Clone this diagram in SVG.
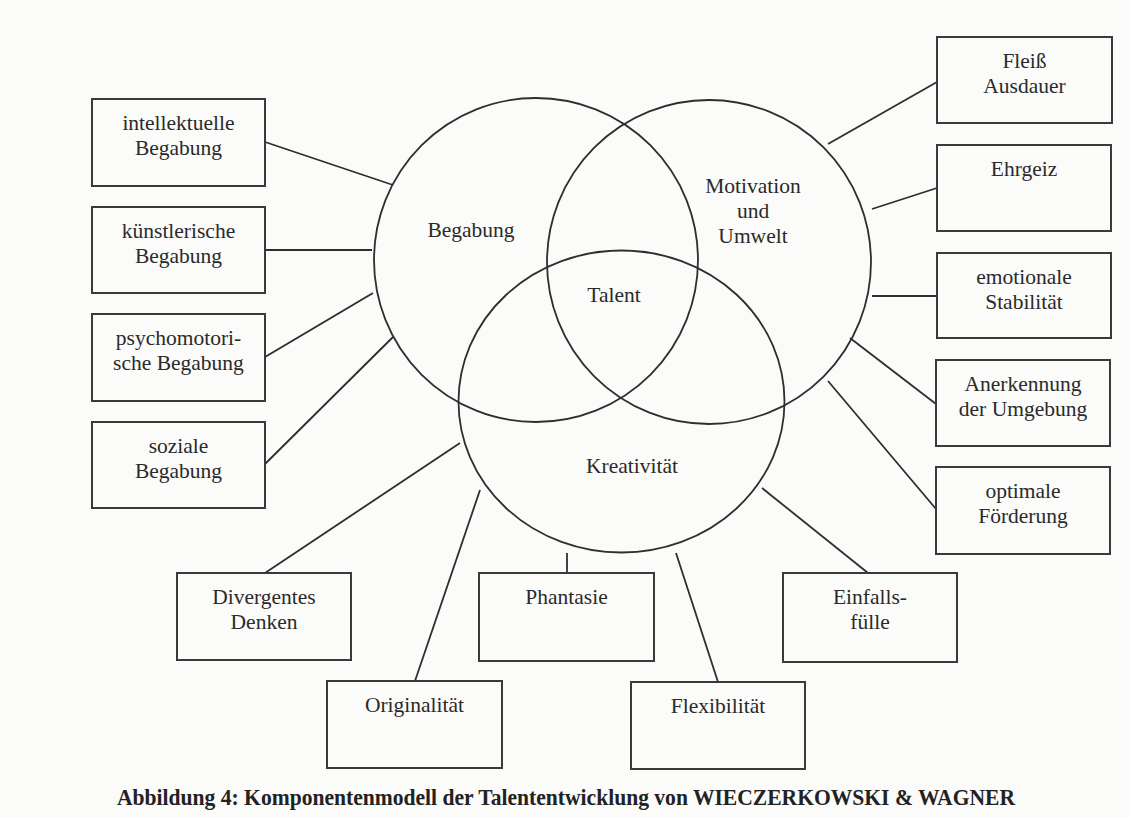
<svg xmlns="http://www.w3.org/2000/svg" width="1129" height="818" viewBox="0 0 1129 818">
<style>
  .bg { fill: #fbfbfa; }
  .shape { fill: none; stroke: #2e2e2e; stroke-width: 1.8; }
  .box { fill: none; stroke: #3a3a3a; stroke-width: 2; }
  .conn line { stroke: #2e2e2e; stroke-width: 1.8; }
  .t { font-family: "Liberation Serif", "Times New Roman", serif; font-size: 21.5px; fill: #2a2a2a; text-anchor: middle; }
  .title { font-family: "Liberation Serif", "Times New Roman", serif; font-size: 24px; font-weight: bold; fill: #222; }
</style>
<rect class="bg" x="0" y="0" width="1129" height="818"/>

<g id="circles">
  <g id="circle-begabung">
    <circle class="shape" cx="536" cy="260" r="162"/>
    <text class="t" x="471" y="237">Begabung</text>
  </g>
  <g id="circle-motivation">
    <circle class="shape" cx="709" cy="262" r="162"/>
    <text class="t" x="753" y="193">Motivation</text>
    <text class="t" x="753" y="218">und</text>
    <text class="t" x="753" y="243">Umwelt</text>
  </g>
  <g id="circle-kreativitaet">
    <ellipse class="shape" cx="621.5" cy="401.5" rx="163" ry="151"/>
    <text class="t" x="632" y="473">Kreativität</text>
  </g>
  <g id="talent">
    <text class="t" x="614" y="302">Talent</text>
  </g>
</g>

<g id="connectors" class="conn">
  <line x1="265" y1="142" x2="393" y2="185"/>
  <line x1="265" y1="250" x2="372" y2="250"/>
  <line x1="265" y1="357" x2="373" y2="293"/>
  <line x1="265" y1="464" x2="393" y2="337"/>
  <line x1="937" y1="82" x2="828" y2="144"/>
  <line x1="937" y1="188" x2="872" y2="209"/>
  <line x1="937" y1="296" x2="872" y2="296"/>
  <line x1="936" y1="404" x2="850" y2="338"/>
  <line x1="936" y1="509" x2="828" y2="381"/>
  <line x1="265" y1="573" x2="460" y2="443"/>
  <line x1="415" y1="681" x2="480" y2="490"/>
  <line x1="567" y1="553" x2="567" y2="573"/>
  <line x1="718" y1="682" x2="676" y2="553"/>
  <line x1="868" y1="573" x2="762" y2="488"/>
</g>

<g id="node-intellektuelle">
  <rect class="box" x="92" y="99" width="173" height="87"/>
  <text class="t" x="178.5" y="130">intellektuelle</text>
  <text class="t" x="178.5" y="155">Begabung</text>
</g>
<g id="node-kuenstlerische">
  <rect class="box" x="92" y="207" width="173" height="86"/>
  <text class="t" x="178.5" y="238">künstlerische</text>
  <text class="t" x="178.5" y="263">Begabung</text>
</g>
<g id="node-psychomotorische">
  <rect class="box" x="92" y="314" width="173" height="87"/>
  <text class="t" x="178.5" y="345">psychomotori-</text>
  <text class="t" x="178.5" y="370">sche Begabung</text>
</g>
<g id="node-soziale">
  <rect class="box" x="92" y="422" width="173" height="86"/>
  <text class="t" x="178.5" y="453">soziale</text>
  <text class="t" x="178.5" y="478">Begabung</text>
</g>

<g id="node-fleiss">
  <rect class="box" x="937" y="37" width="175" height="86"/>
  <text class="t" x="1024.5" y="68">Fleiß</text>
  <text class="t" x="1024.5" y="93">Ausdauer</text>
</g>
<g id="node-ehrgeiz">
  <rect class="box" x="937" y="145" width="174" height="86"/>
  <text class="t" x="1024" y="176">Ehrgeiz</text>
</g>
<g id="node-emotionale">
  <rect class="box" x="937" y="253" width="174" height="85"/>
  <text class="t" x="1024" y="284">emotionale</text>
  <text class="t" x="1024" y="309">Stabilität</text>
</g>
<g id="node-anerkennung">
  <rect class="box" x="936" y="360" width="174" height="86"/>
  <text class="t" x="1023" y="391">Anerkennung</text>
  <text class="t" x="1023" y="416">der Umgebung</text>
</g>
<g id="node-foerderung">
  <rect class="box" x="936" y="467" width="174" height="87"/>
  <text class="t" x="1023" y="498">optimale</text>
  <text class="t" x="1023" y="523">Förderung</text>
</g>

<g id="node-divergentes">
  <rect class="box" x="177" y="573" width="174" height="87"/>
  <text class="t" x="264" y="604">Divergentes</text>
  <text class="t" x="264" y="629">Denken</text>
</g>
<g id="node-phantasie">
  <rect class="box" x="479" y="573" width="175" height="88"/>
  <text class="t" x="566.5" y="604">Phantasie</text>
</g>
<g id="node-einfall">
  <rect class="box" x="783" y="573" width="174" height="89"/>
  <text class="t" x="870" y="604">Einfalls-</text>
  <text class="t" x="870" y="629">fülle</text>
</g>
<g id="node-originalitaet">
  <rect class="box" x="327" y="681" width="175" height="87"/>
  <text class="t" x="414.5" y="712">Originalität</text>
</g>
<g id="node-flexibilitaet">
  <rect class="box" x="631" y="682" width="174" height="87"/>
  <text class="t" x="718" y="713">Flexibilität</text>
</g>

<g id="caption">
  <text class="title" x="117" y="805" textLength="898" lengthAdjust="spacingAndGlyphs">Abbildung 4: Komponentenmodell der Talententwicklung von WIECZERKOWSKI &amp; WAGNER</text>
</g>
</svg>
